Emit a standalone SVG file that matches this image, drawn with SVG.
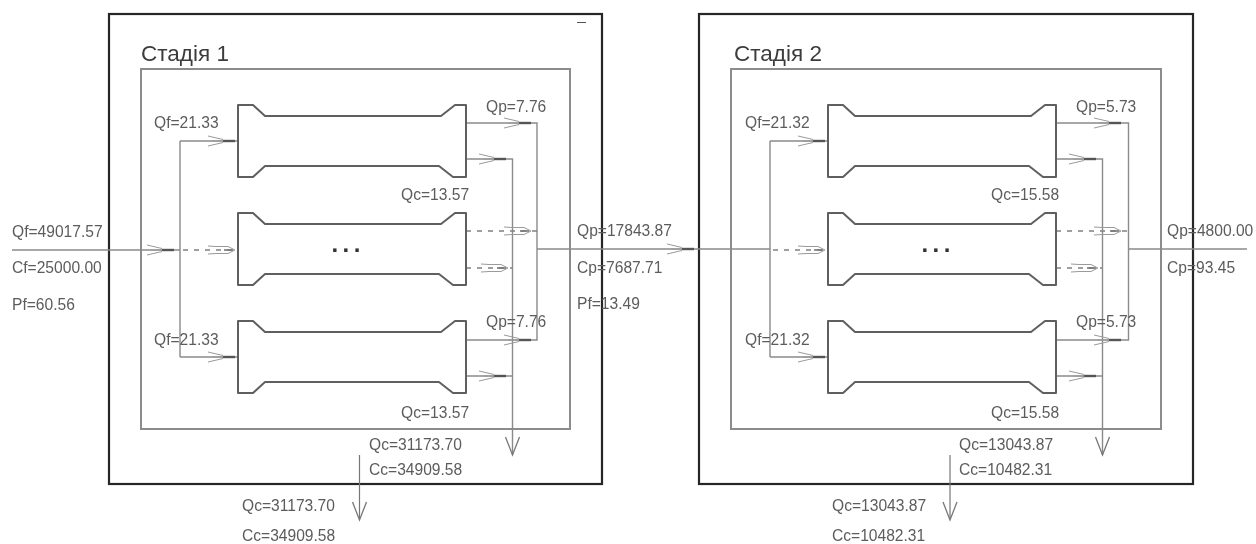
<svg xmlns="http://www.w3.org/2000/svg" width="1256" height="544" viewBox="0 0 1256 544">
<style>
text{font-family:"Liberation Sans",Arial,sans-serif;font-size:15.6px;fill:#5c5c5c}
.title{font-size:22.500px;fill:#3c3c3c}
.dots{font-size:24px;font-weight:bold;letter-spacing:4.400px;fill:#333}
.outer{fill:none;stroke:#262626;stroke-width:2.2}
.inner{fill:none;stroke:#8c8c8c;stroke-width:2}
.mod{fill:#fff;stroke:#5f5f5f;stroke-width:2;stroke-linejoin:round}
.ln{fill:none;stroke:#8a8a8a;stroke-width:1.4}
.thin{fill:none;stroke:#777;stroke-width:1.2}
.dash{fill:none;stroke:#808080;stroke-width:1.3;stroke-dasharray:5 6}
.barb{fill:none;stroke:#9a9a9a;stroke-width:1}
.tip{fill:none;stroke:#555;stroke-width:2.4}
.tip2{fill:none;stroke:#777;stroke-width:1.600}
.dn{fill:none;stroke:#777;stroke-width:1.3}
.soft{filter:blur(0.4px)}
</style>
<defs>
<g id="arrow">
<path class="barb" d="M-28-5L-13-1.500M-28 5L-13 1.500M-24 0H-10"/>
<path class="tip" d="M-13 0H-1"/>
</g>
<g id="arrowd">
<path class="barb" d="M-28-4L-20-3.500H-8L-1 0L-8 3.500H-20L-28 4"/>
<path class="tip2" d="M-12 0H-3"/>
</g>
<path id="down" class="dn" d="M-7-18L0 0L7-18"/>
<path id="modshape" class="mod" d="M0 0H15L27 11H203L217 0H228V72H215L201 61H27L15 72H0Z"/>
</defs>

<g class="soft">
<rect width="1256" height="544" fill="#fff"/>
<g id="stage-1">
<rect class="outer" x="109" y="14" width="493" height="470"/>
<rect class="inner" x="141" y="69" width="429" height="360"/>
<text class="title" x="141" y="61">Стадія 1</text>
<path d="M577 22.500H586" stroke="#555" stroke-width="1" fill="none"/>
</g>
<g id="stage-2">
<rect class="outer" x="699" y="14" width="494" height="470"/>
<rect class="inner" x="731" y="69" width="430" height="360"/>
<text class="title" x="734" y="61">Стадія 2</text>
</g>

<g id="connectors">
<path class="ln" d="M12 250H180M180 141V357M180 141H238M180 357H238"/>
<path class="dash" d="M183 250H238"/>
<path class="ln" d="M466 123H537V340H466M466 159H512.500V455M466 376H512.500M537 249H770M770 141V357M770 141H828M770 357H828"/>
<path class="dash" d="M466 231H537M466 268H512"/>
<path class="dash" d="M773 250H828"/>
<path class="ln" d="M1056 123H1128.500V340H1056M1056 159H1102.500V455M1056 376H1102.500M1128.500 249H1247"/>
<path class="dash" d="M1056 231H1128M1056 268H1102"/>
<path class="thin" d="M359.500 455V518M950 455V518"/>
<use href="#arrow" x="175" y="250"/><use href="#arrowd" x="236" y="250"/>
<use href="#arrow" x="236" y="141"/><use href="#arrow" x="236" y="357"/>
<use href="#arrow" x="532" y="123"/><use href="#arrow" x="507" y="159"/>
<use href="#arrowd" x="532" y="231"/><use href="#arrowd" x="509" y="268"/>
<use href="#arrow" x="532" y="340"/><use href="#arrow" x="507" y="376"/>
<use href="#arrow" x="695" y="249"/>
<use href="#arrowd" x="826" y="250"/>
<use href="#arrow" x="826" y="141"/><use href="#arrow" x="826" y="357"/>
<use href="#arrow" x="1122" y="123"/><use href="#arrow" x="1097" y="159"/>
<use href="#arrowd" x="1122" y="231"/><use href="#arrowd" x="1099" y="268"/>
<use href="#arrow" x="1122" y="340"/><use href="#arrow" x="1097" y="376"/>
<use href="#down" x="512.500" y="455"/><use href="#down" x="1102.500" y="455"/>
<use href="#down" x="359.500" y="520"/><use href="#down" x="950" y="520"/>
</g>

<g id="module-1-1"><use href="#modshape" x="238" y="105"/></g>
<g id="module-1-2"><use href="#modshape" x="238" y="213"/><text class="dots" x="331.500" y="252">...</text></g>
<g id="module-1-3"><use href="#modshape" x="238" y="321"/></g>
<g id="module-2-1"><use href="#modshape" x="828" y="105"/></g>
<g id="module-2-2"><use href="#modshape" x="828" y="213"/><text class="dots" x="921.500" y="252">...</text></g>
<g id="module-2-3"><use href="#modshape" x="828" y="321"/></g>

<g id="labels">
<text x="12" y="237">Qf=49017.57</text>
<text x="12" y="273">Cf=25000.00</text>
<text x="12" y="310">Pf=60.56</text>
<text x="154" y="128">Qf=21.33</text>
<text x="154" y="345">Qf=21.33</text>
<text x="486" y="112">Qp=7.76</text>
<text x="486" y="327">Qp=7.76</text>
<text x="401" y="200">Qc=13.57</text>
<text x="401" y="418">Qc=13.57</text>
<text x="369" y="450">Qc=31173.70</text>
<text x="369" y="475">Cc=34909.58</text>
<text x="242" y="511">Qc=31173.70</text>
<text x="242" y="541">Cc=34909.58</text>
<text x="577" y="236">Qp=17843.87</text>
<text x="577" y="273">Cp=7687.71</text>
<text x="577" y="309">Pf=13.49</text>
<text x="745" y="128">Qf=21.32</text>
<text x="745" y="345">Qf=21.32</text>
<text x="1076" y="112">Qp=5.73</text>
<text x="1076" y="327">Qp=5.73</text>
<text x="991" y="200">Qc=15.58</text>
<text x="991" y="418">Qc=15.58</text>
<text x="959" y="450">Qc=13043.87</text>
<text x="959" y="475">Cc=10482.31</text>
<text x="832" y="511">Qc=13043.87</text>
<text x="832" y="541">Cc=10482.31</text>
<text x="1167" y="236">Qp=4800.00</text>
<text x="1167" y="273">Cp=93.45</text>
</g>
</g>
</svg>
